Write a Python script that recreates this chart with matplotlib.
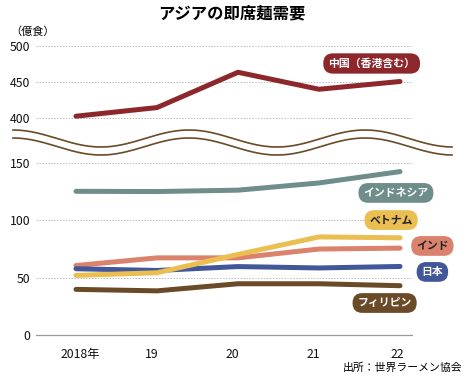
import matplotlib.pyplot as plt
import numpy as np
from matplotlib.transforms import ScaledTranslation

plt.rcParams['font.family'] = ['Noto Sans CJK JP', 'DejaVu Sans']

# 億食
years = ["2018年", "19", "20", "21", "22"]
china = [402.5, 414.5, 463.5, 439.9, 450.7]
indonesia = [125.4, 125.2, 126.4, 132.7, 142.6]
vietnam = [52.0, 54.3, 70.3, 85.6, 84.8]
india = [60.6, 67.3, 67.3, 75.0, 75.8]
japan = [57.8, 56.3, 59.7, 58.5, 59.8]
philippines = [39.8, 38.5, 44.7, 44.7, 43.0]

C_CHINA = "#8E272B"
C_INDONESIA = "#6F8E8B"
C_VIETNAM = "#EBBE52"
C_INDIA = "#DB826D"
C_JAPAN = "#41579A"
C_PHIL = "#6B4A27"
C_GRID = "#BBBBBB"

W, H = 465, 380
fig = plt.figure(figsize=(W / 100, H / 100), dpi=100)

def px_axes(x0, y0, x1, y1):
    return fig.add_axes([x0 / W, 1 - y1 / H, (x1 - x0) / W, (y1 - y0) / H])

x = np.arange(len(years))
xlim = ((36 - 76) / 81, (413 - 76) / 81)

ax_top = px_axes(36, 40, 413, 125)
ax_low = px_axes(36, 155, 413, 340)

for ax in (ax_top, ax_low):
    ax.set_xlim(*xlim)
    for s in ax.spines.values():
        s.set_visible(False)
    ax.tick_params(length=0, labelsize=8.8, pad=4, labelcolor="#111111")
    ax.set_facecolor("none")

ax_top.set_ylim(390.3, 508.3)
ax_top.set_yticks([400, 450, 500])
ax_top.set_xticks([])
for v in [400, 450, 500]:
    ax_top.axhline(v, color=C_GRID, lw=0.7, ls=(0, (1.5, 1.5)), zorder=0)

ax_low.set_ylim(-4.4, 157.1)
ax_low.set_yticks([0, 50, 100, 150])
for v in [50, 100, 150]:
    ax_low.axhline(v, color=C_GRID, lw=0.7, ls=(0, (1.5, 1.5)), zorder=0)
ax_low.axhline(0, color="#999999", lw=0.9, zorder=0)
ax_low.set_xticks(x)
ax_low.set_xticklabels(years)
ax_low.tick_params(axis="x", pad=6)
# small horizontal nudges of the year labels, in pixels
nudges = [4, -5, -6, -6, -3]
for lab, dx in zip(ax_low.get_xticklabels(), nudges):
    lab.set_transform(lab.get_transform() + ScaledTranslation(dx / 100, 0, fig.dpi_scale_trans))

lw = 3.6
style = dict(lw=lw, solid_capstyle="round", solid_joinstyle="round")
ax_top.plot(x, china, color=C_CHINA, **style)
ax_low.plot(x, philippines, color=C_PHIL, **style)
ax_low.plot(x, india, color=C_INDIA, **style)
ax_low.plot(x, japan, color=C_JAPAN, **style)
ax_low.plot(x, vietnam, color=C_VIETNAM, **style)
ax_low.plot(x, indonesia, color=C_INDONESIA, **style)

def tag(ax, xp, yp, text, fc, tc):
    ax.text(xp, yp, text, ha="center", va="center", fontsize=7.8, fontweight="bold",
            color=tc, clip_on=False,
            bbox=dict(boxstyle="round,pad=0.45,rounding_size=0.9", fc=fc, ec="none"))

tag(ax_top, 3.65, 475.7, "中国（香港含む）", C_CHINA, "white")
tag(ax_low, 3.95, 124.0, "インドネシア", C_INDONESIA, "white")
tag(ax_low, 3.89, 100.3, "ベトナム", C_VIETNAM, "#222222")
tag(ax_low, 4.40, 77.7, "インド", C_INDIA, "#222222")
tag(ax_low, 4.40, 55.0, "日本", C_JAPAN, "white")
tag(ax_low, 3.81, 27.9, "フィリピン", C_PHIL, "white")

# axis break waves, drawn in pixel space
ov = fig.add_axes([0, 0, 1, 1])
ov.set_xlim(0, W)
ov.set_ylim(H, 0)
ov.axis("off")
ov.patch.set_visible(False)
wx = np.linspace(13, 452, 400)
wave = 138.5 - 8.5 * np.cos(2 * np.pi * (wx - 13) / 176)
ov.fill_between(wx, wave, wave + 8, color="white", lw=0)
ov.plot(wx, wave, color=C_PHIL, lw=1.2)
ov.plot(wx, wave + 8, color=C_PHIL, lw=1.2)

fig.text(232 / W, 1 - 13 / H, "アジアの即席麺需要", ha="center", va="center",
         fontsize=11.8, fontweight="bold")
fig.text(10 / W, 1 - 32 / H, "（億食）", ha="left", va="center", fontsize=8)
fig.text(462 / W, 1 - 368 / H, "出所：世界ラーメン協会", ha="right", va="center", fontsize=7.8)

fig.savefig("out.png", dpi=100)
